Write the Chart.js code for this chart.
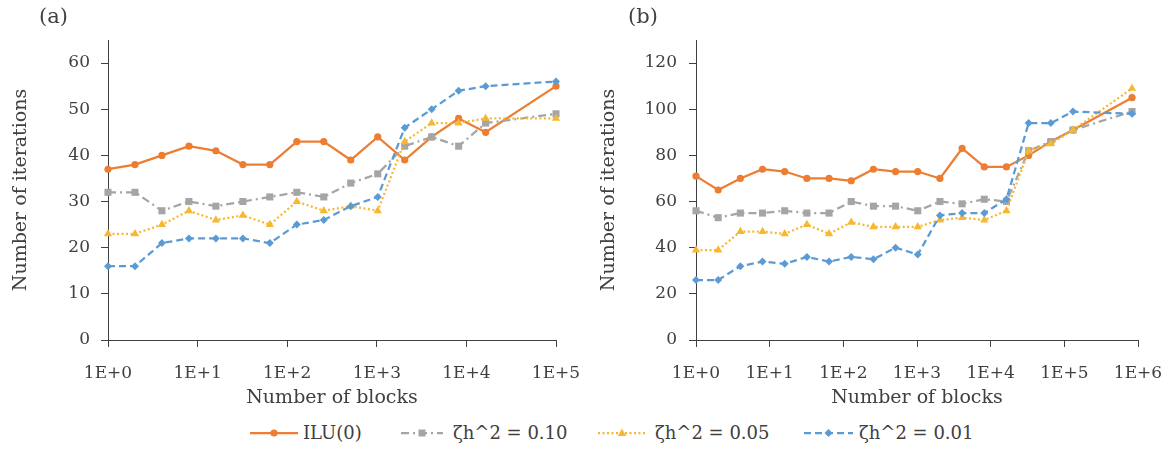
<!DOCTYPE html>
<html>
<head>
<meta charset="utf-8">
<script src="https://cdn.jsdelivr.net/npm/chart.js@4.4.0/dist/chart.umd.min.js"></script>
<style>
  body { margin: 0; background: #fff; }
  #wrap { position: relative; width: 1169px; height: 450px; font-family: "DejaVu Serif", serif; color: #404040; }
  canvas { position: absolute; top: 0; }
  .panel { position: absolute; top: 4px; font-size: 21px; line-height: 24px; }
  .leg { position: absolute; top: 421px; height: 24px; line-height: 24px; font-size: 18px; white-space: nowrap; }
  .legline { position: absolute; top: 427px; }
</style>
</head>
<body>
<div id="wrap">
  <canvas id="chartA" width="585" height="415" style="left:0"></canvas>
  <canvas id="chartB" width="584" height="415" style="left:585px"></canvas>
  <div class="panel" style="left:39px">(a)</div>
  <div class="panel" style="left:628px">(b)</div>
  <div id="legend"></div>
</div>
<script>
// number of blocks (x) and iterations per series
const blocksA = [1, 2, 4, 8, 16, 32, 64, 128, 256, 512, 1024, 2048, 4096, 8192, 16384, 100000];
const iluA    = [37, 38, 40, 42, 41, 38, 38, 43, 43, 39, 44, 39, 44, 48, 45, 55];
const zeta10A = [32, 32, 28, 30, 29, 30, 31, 32, 31, 34, 36, 42, 44, 42, 47, 49];
const zeta05A = [23, 23, 25, 28, 26, 27, 25, 30, 28, 29, 28, 43, 47, 47, 48, 48];
const zeta01A = [16, 16, 21, 22, 22, 22, 21, 25, 26, 29, 31, 46, 50, 54, 55, 56];

const blocksB = [1, 2, 4, 8, 16, 32, 64, 128, 256, 512, 1024, 2048, 4096, 8192, 16384, 32768, 65536, 131072, 830000];
const iluB    = [71, 65, 70, 74, 73, 70, 70, 69, 74, 73, 73, 70, 83, 75, 75, 80, 86, 91, 105];
const zeta10B = [56, 53, 55, 55, 56, 55, 55, 60, 58, 58, 56, 60, 59, 61, 60, 82, 86, 91, 99];
const zeta05B = [39, 39, 47, 47, 46, 50, 46, 51, 49, 49, 49, 52, 53, 52, 56, 82, 85, 91, 109];
const zeta01B = [26, 26, 32, 34, 33, 36, 34, 36, 35, 40, 37, 54, 55, 55, 61, 94, 94, 99, 98];

const seriesNames = ['ILU(0)', 'ζh^2 = 0.10', 'ζh^2 = 0.05', 'ζh^2 = 0.01'];

const xTicksA = [1, 10, 100, 1000, 10000, 100000];
const xLabelsA = ['1E+0', '1E+1', '1E+2', '1E+3', '1E+4', '1E+5'];
const xTicksB = [1, 10, 100, 1000, 10000, 100000, 1000000];
const xLabelsB = ['1E+0', '1E+1', '1E+2', '1E+3', '1E+4', '1E+5', '1E+6'];
const yTicksA = [0, 10, 20, 30, 40, 50, 60];
const yTicksB = [0, 20, 40, 60, 80, 100, 120];

// look of each series (Excel-like)
const styles = [
    { color: '#ED7D31', dash: [], point: 'circle', radius: 3.6, order: 3 },
    { color: '#A5A5A5', dash: [8, 4, 2, 4], point: 'rect', radius: 5, order: 2 },
    { color: '#F7B731', dash: [2, 2.5], point: 'triangle', radius: 4.8, order: 1 },
    { color: '#5B9BD5', dash: [7, 4], point: 'rectRot', radius: 4, order: 0 }
];

const textColor = '#404040';
const axisColor = '#404040';
const fontFamily = '"DejaVu Serif", serif';

function buildDatasets(xs, seriesList) {
    return seriesList.map((vals, i) => ({
        label: seriesNames[i],
        data: xs.map((x, j) => ({ x: x, y: vals[j] })),
        borderColor: styles[i].color,
        backgroundColor: styles[i].color,
        borderWidth: 2.25,
        borderDash: styles[i].dash,
        pointStyle: styles[i].point,
        pointRadius: styles[i].radius,
        pointBorderWidth: 0,
        pointBackgroundColor: styles[i].color,
        tension: 0,
        order: styles[i].order,
        clip: false
    }));
}

function makePanel(canvasId, cfg) {
    const tickFont = { family: fontFamily, size: 17 };
    // taller line box pushes the x labels down without widening the side overflow
    const xTickFont = { family: fontFamily, size: 17, lineHeight: 2.75 };
    const titleFont = { family: fontFamily, size: 19 };
    return new Chart(document.getElementById(canvasId).getContext('2d'), {
        type: 'line',
        data: { datasets: buildDatasets(cfg.xs, cfg.series) },
        options: {
            responsive: false,
            animation: false,
            devicePixelRatio: 1,
            layout: { padding: { top: 40, right: cfg.padRight, left: 0, bottom: 0 } },
            plugins: { legend: { display: false }, tooltip: { enabled: false } },
            scales: {
                x: {
                    type: 'logarithmic',
                    min: cfg.xTicks[0],
                    max: cfg.xTicks[cfg.xTicks.length - 1],
                    afterBuildTicks: s => { s.ticks = cfg.xTicks.map(v => ({ value: v })); },
                    afterFit: s => { s.height = 75; },
                    ticks: {
                        autoSkip: false, maxRotation: 0, padding: 3,
                        color: textColor, font: xTickFont,
                        callback: (v, i) => cfg.xLabels[i]
                    },
                    grid: { drawOnChartArea: false, drawTicks: true, tickLength: 7, color: axisColor },
                    border: { color: axisColor, width: 1 },
                    title: { display: true, text: 'Number of blocks', color: textColor, font: titleFont, padding: { top: 0, bottom: 6 } }
                },
                y: {
                    min: 0,
                    max: cfg.yMax,
                    afterBuildTicks: s => { s.ticks = cfg.yTicks.map(v => ({ value: v })); },
                    afterFit: s => { s.width = cfg.yWidth; },
                    ticks: { padding: cfg.yPad, color: textColor, font: tickFont },
                    grid: { drawOnChartArea: false, drawTicks: true, tickLength: 7, color: axisColor },
                    border: { color: axisColor, width: 1 },
                    title: { display: true, text: 'Number of iterations', color: textColor, font: titleFont, padding: { top: cfg.titlePad, bottom: 0 } }
                }
            }
        }
    });
}

makePanel('chartA', {
    xs: blocksA, series: [iluA, zeta10A, zeta05A, zeta01A],
    xTicks: xTicksA, xLabels: xLabelsA, yTicks: yTicksA, yMax: 65,
    yWidth: 108, padRight: 29, yPad: 11, titlePad: 10
});
makePanel('chartB', {
    xs: blocksB, series: [iluB, zeta10B, zeta05B, zeta01B],
    xTicks: xTicksB, xLabels: xLabelsB, yTicks: yTicksB, yMax: 130,
    yWidth: 111, padRight: 31, yPad: 12, titlePad: 13
});

// shared legend under both panels
function markerSvg(st, cx, cy) {
    const c = st.color;
    if (st.point === 'circle') return `<circle cx="${cx}" cy="${cy}" r="3.6" fill="${c}"/>`;
    if (st.point === 'rect') return `<rect x="${cx - 3.5}" y="${cy - 3.5}" width="7" height="7" fill="${c}"/>`;
    if (st.point === 'triangle') return `<polygon points="${cx},${cy - 4.5} ${cx + 4.2},${cy + 3} ${cx - 4.2},${cy + 3}" fill="${c}"/>`;
    return `<polygon points="${cx},${cy - 4} ${cx + 4},${cy} ${cx},${cy + 4} ${cx - 4},${cy}" fill="${c}"/>`;
}
const legLeft = [250, 401, 598, 804];
const legText = [303, 453, 655, 859];
const legWidth = [48, 42, 48, 49];
const legend = document.getElementById('legend');
let html = '';
seriesNames.forEach((name, i) => {
    const st = styles[i], w = legWidth[i];
    const dash = st.dash.length ? `stroke-dasharray="${st.dash.join(' ')}"` : '';
    html += `<svg class="legline" style="left:${legLeft[i]}px" width="${w}" height="12">
        <line x1="0" y1="6" x2="${w}" y2="6" stroke="${st.color}" stroke-width="2.25" ${dash}/>
        ${markerSvg(st, w / 2, 6)}</svg>`;
    html += `<div class="leg" style="left:${legText[i]}px">${name}</div>`;
});
legend.innerHTML = html;
</script>
</body>
</html>
